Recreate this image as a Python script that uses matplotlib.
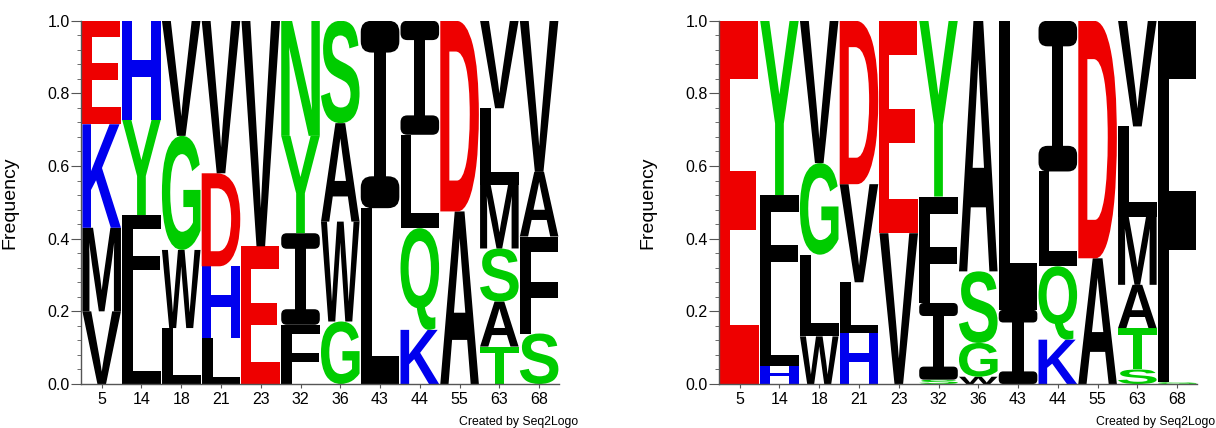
import matplotlib
matplotlib.use('Agg')
import matplotlib.pyplot as plt
from matplotlib.textpath import TextPath
from matplotlib.font_manager import FontProperties
from matplotlib.patches import PathPatch, Rectangle, FancyBboxPatch
from matplotlib.transforms import Affine2D
from matplotlib.ticker import MultipleLocator

plt.rcParams['font.family'] = ['Liberation Sans', 'DejaVu Sans']

positions = ['5', '14', '18', '21', '23', '32', '36', '43', '44', '55', '63', '68']

# letras de baixo para cima em cada coluna
left_letters = ["VMKE", "LFYH", "LWGV", "LHDV", "EV", "FIYN",
                "GWAS", "LI", "KQLI", "AD", "TASMLV", "SFAV"]
left_freqs = [
    [0.200, 0.230, 0.285, 0.285],
    [0.225, 0.240, 0.262, 0.273],
    [0.154, 0.215, 0.314, 0.317],
    [0.126, 0.198, 0.256, 0.420],
    [0.379, 0.621],
    [0.163, 0.252, 0.268, 0.317],
    [0.172, 0.275, 0.271, 0.282],
    [0.484, 0.516],
    [0.149, 0.280, 0.257, 0.314],
    [0.475, 0.525],
    [0.103, 0.124, 0.146, 0.175, 0.211, 0.241],
    [0.139, 0.267, 0.178, 0.416],
]

right_letters = ["E", "HLFY", "WLGV", "HLVD", "VE", "SIFY",
                 "WGSA", "IL", "KQLI", "AD", "STAMLV", "GF"]
right_freqs = [
    [1.000],
    [0.050, 0.180, 0.290, 0.480],
    [0.131, 0.225, 0.252, 0.392],
    [0.140, 0.140, 0.270, 0.450],
    [0.415, 0.585],
    [0.012, 0.211, 0.293, 0.484],
    [0.020, 0.093, 0.197, 0.690],
    [0.204, 0.796],
    [0.122, 0.202, 0.261, 0.415],
    [0.346, 0.654],
    [0.040, 0.114, 0.119, 0.188, 0.248, 0.291],
    [0.005, 0.995],
]

cores = {}
for c in 'DE':
    cores[c] = '#ee0000'
for c in 'HKR':
    cores[c] = '#0000ee'
for c in 'GSTYCQN':
    cores[c] = '#00cc00'
for c in 'AVLIMFWP':
    cores[c] = 'black'

fonte = FontProperties(family='Liberation Sans', weight='bold')

# pixels por unidade de dados (x e y) nos eixos
px_x = 478 / 12.02
px_y = 363.3


def letra_i(ax, cor, x0, y0, w, h):
    s = 0.17 * h
    haste = 0.29 * w
    ax.add_patch(Rectangle((x0 + (w - haste) / 2, y0 + s / 2), haste, h - s, facecolor=cor, lw=0))
    a = px_x / px_y
    r = 0.7 * min(s / a / 2, w / 2)
    for yb in [y0, y0 + h - s]:
        ax.add_patch(FancyBboxPatch((x0, yb), w, s, boxstyle='round,pad=0,rounding_size=%f' % r,
                                    mutation_aspect=a, facecolor=cor, lw=0))


def letra(ax, c, x0, y0, w, h):
    if c == 'I':
        letra_i(ax, cores[c], x0, y0, w, h)
        return
    tp = TextPath((0, 0), c, size=1, prop=fonte)
    bb = tp.get_extents()
    t = Affine2D().translate(-bb.x0, -bb.y0).scale(w / bb.width, h / bb.height).translate(x0, y0)
    ax.add_patch(PathPatch(t.transform_path(tp), facecolor=cores[c], edgecolor='none', lw=0))


def logo(ax, letters, freqs):
    w = 0.97
    for i in range(len(positions)):
        y = 0
        for c, f in zip(letters[i], freqs[i]):
            letra(ax, c, i + 1 - w / 2, y, w, f)
            y += f
    ax.set_xlim(0.48, 12.5)
    ax.set_ylim(0, 1)
    ax.set_xticks(range(1, len(positions) + 1))
    ax.set_xticklabels(positions)
    ax.yaxis.set_major_locator(MultipleLocator(0.2))
    ax.yaxis.set_minor_locator(MultipleLocator(0.04))
    ax.set_yticklabels(['%.1f' % v for v in ax.get_yticks()])
    for s in ['top', 'right']:
        ax.spines[s].set_visible(False)
    for s in ['left', 'bottom']:
        ax.spines[s].set_color('#555555')
        ax.spines[s].set_linewidth(1)
    ax.tick_params(axis='y', which='major', length=7, color='#555555', labelsize=11.5, pad=1)
    ax.tick_params(axis='y', which='minor', length=3, color='#555555')
    ax.tick_params(axis='x', length=3, color='#555555', labelsize=11.5, pad=3)
    ax.set_ylabel('Frequency', fontsize=14)
    ax.yaxis.set_label_coords(-0.132, 0.5)


fig = plt.figure(figsize=(12.16, 4.28), dpi=100)
ax1 = fig.add_axes([81 / 1216, 44 / 428, 478 / 1216, 363.3 / 428])
ax2 = fig.add_axes([719 / 1216, 44 / 428, 478 / 1216, 363.3 / 428])
logo(ax1, left_letters, left_freqs)
logo(ax2, right_letters, right_freqs)

fig.text(578 / 1216, 1 - 422 / 428, 'Created by Seq2Logo', fontsize=8.8, ha='right', va='center')
fig.text(1215 / 1216, 1 - 422 / 428, 'Created by Seq2Logo', fontsize=8.8, ha='right', va='center')

fig.savefig('out.png', dpi=100)
